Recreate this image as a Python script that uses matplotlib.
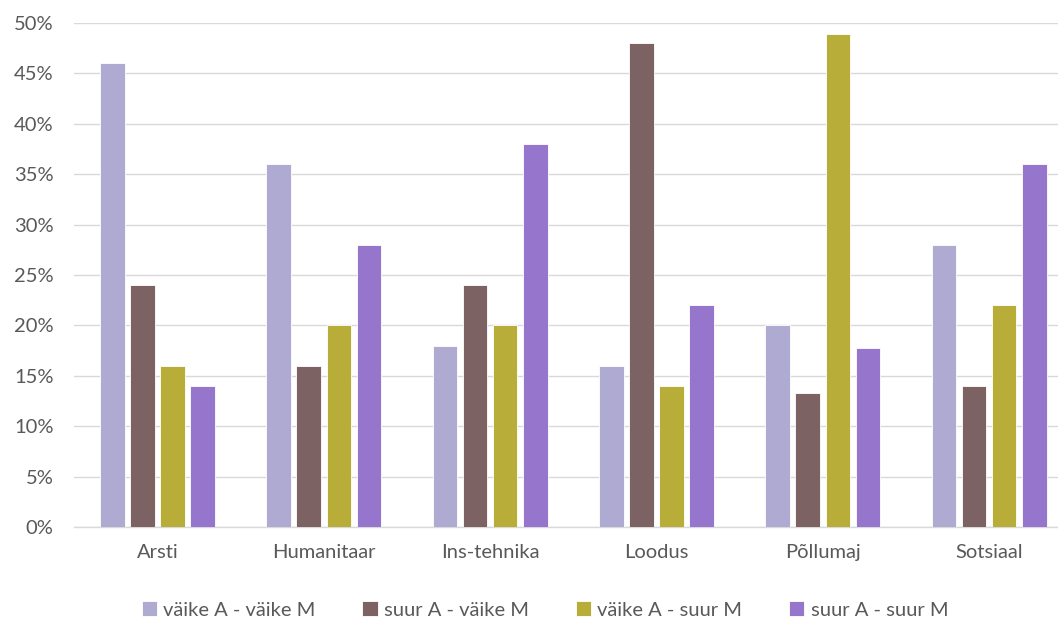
import numpy as np
import matplotlib
matplotlib.use("Agg")
import matplotlib.pyplot as plt
from matplotlib.ticker import FuncFormatter

categories = ["Arsti", "Humanitaar", "Ins-tehnika", "Loodus", "Põllumaj", "Sotsiaal"]
series_names = ["väike A - väike M", "suur A - väike M", "väike A - suur M", "suur A - suur M"]
vaike_vaike = [46, 36, 18, 16, 20, 28]
suur_vaike = [24, 16, 24, 48, 13.3, 14]
vaike_suur = [16, 20, 20, 14, 48.9, 22]
suur_suur = [14, 28, 38, 22, 17.8, 36]
colors = ["#aeaad2", "#7c6263", "#b7ad38", "#9676cc"]

plt.rcParams["font.family"] = ["Lato", "DejaVu Sans"]
text_color = "#595959"

fig = plt.figure(figsize=(10.58, 6.21), dpi=100)
ax = fig.add_axes([0.0702, 0.1514, 0.9433, 0.8116])

x = np.arange(len(categories))
step = 0.181
width = 0.148
for i, (vals, name) in enumerate(zip([vaike_vaike, suur_vaike, vaike_suur, suur_suur], series_names)):
    ax.bar(x + (i - 1.5) * step, vals, width=width, color=colors[i], label=name,
           edgecolor="white", linewidth=0.6, zorder=3)

ax.set_xlim(-0.5, len(categories) - 0.5)
ax.set_ylim(0, 50)
ax.set_yticks(np.arange(0, 51, 5))
ax.yaxis.set_major_formatter(FuncFormatter(lambda v, p: f"{int(v)}%"))
ax.set_xticks(x)
ax.set_xticklabels(categories)
ax.grid(axis="y", color="#d9d9d9", linewidth=1.0, zorder=0)
for s in ["top", "right", "left"]:
    ax.spines[s].set_visible(False)
ax.spines["bottom"].set_color("#d9d9d9")
ax.spines["bottom"].set_linewidth(1.0)
ax.tick_params(axis="both", length=0, labelsize=14.5, colors=text_color)
ax.tick_params(axis="x", pad=12)
ax.tick_params(axis="y", pad=15)

leg = fig.legend(loc="center", bbox_to_anchor=(0.515, 0.018), ncol=4, frameon=False,
                 fontsize=14.5, handlelength=0.75, handleheight=0.75, handletextpad=0.3,
                 columnspacing=2.35)
for t in leg.get_texts():
    t.set_color(text_color)

fig.savefig("out.png", dpi=100)
